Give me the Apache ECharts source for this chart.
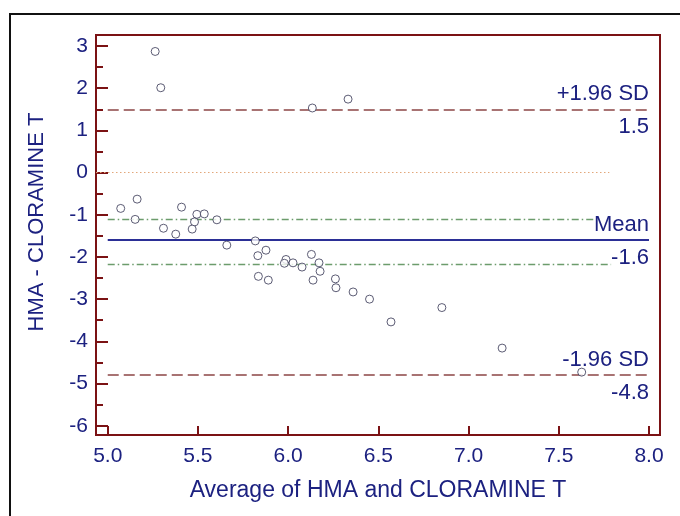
<!DOCTYPE html>
<html>
<head>
<meta charset="utf-8">
<script src="https://cdn.jsdelivr.net/npm/echarts@6/dist/echarts.min.js"></script>
<style>
  html, body { margin: 0; padding: 0; background: #fff; }
  #chart { width: 680px; height: 516px; }
</style>
</head>
<body>
<div id="chart"></div>
<script>
// Bland-Altman agreement plot: HMA vs CLORAMINE T
const avgValues = [5.263, 5.294, 6.134, 6.332, 5.072, 5.163, 5.152, 5.409, 5.494, 5.535,
                   5.481, 5.605, 5.309, 5.468, 5.377, 5.660, 5.818, 5.832, 5.877, 5.835,
                   5.890, 5.988, 5.979, 6.027, 6.077, 6.129, 6.171, 6.177, 6.138, 6.262,
                   6.265, 6.360, 6.451, 6.570, 6.852, 7.186, 7.627];
const diffValues = [2.87, 2.01, 1.53, 1.74, -0.85, -0.63, -1.11, -0.82, -0.99, -0.98,
                    -1.17, -1.12, -1.32, -1.34, -1.46, -1.72, -1.62, -1.97, -1.84, -2.46,
                    -2.55, -2.06, -2.15, -2.14, -2.24, -1.94, -2.14, -2.34, -2.55, -2.52,
                    -2.73, -2.83, -3.00, -3.54, -3.20, -4.16, -4.73];

const meanDiff = -1.6;
const upperLoA = 1.5;
const lowerLoA = -4.8;
const meanCiUpper = -1.11;
const meanCiLower = -2.17;

const xTicks = [5.0, 5.5, 6.0, 6.5, 7.0, 7.5, 8.0];
const yTicks = [-6, -5, -4, -3, -2, -1, 0, 1, 2, 3];
const yMinorTicks = [-5.5, -4.5, -3.5, -2.5, -1.5, -0.5, 0.5, 1.5, 2.5];

const xRange = [4.935, 8.061];
const yRange = [-6.22, 3.26];
const lineStart = 5.0;
const lineEnd = 8.0;
const zeroLineEnd = 7.78;

const axisColor = '#7b1214';
const textColor = '#1c2180';
const font = '"Liberation Sans", Arial, sans-serif';

const points = avgValues.map((x, i) => [x, diffValues[i]]);

function hLine(y, x0, x1, lineStyle, label) {
  return [{ coord: [x0, y], lineStyle: lineStyle, label: label || { show: false } }, { coord: [x1, y] }];
}

function lineLabel(text, pos, extra) {
  return Object.assign({
    show: true, position: pos, distance: [0, pos === 'insideEndTop' ? 4 : 7], formatter: text,
    color: textColor, fontSize: 22, fontFamily: font
  }, extra || {});
}

const hidden = { color: 'transparent', width: 0 };
const loaStyle = { color: '#8c4545', width: 1.5, type: [11, 5] };
const ciStyle = { color: '#6c9c6c', width: 1.3, type: [7, 3, 1.5, 3] };

const chart = echarts.init(document.getElementById('chart'), null, { renderer: 'canvas' });
chart.setOption({
  backgroundColor: '#fff',
  animation: false,
  graphic: [{
    type: 'rect',
    shape: { x: 10, y: 14, width: 900, height: 900 },
    style: { fill: 'none', stroke: '#111', lineWidth: 2 },
    silent: true, z: 0
  }],
  grid: {
    left: 96, right: 20, top: 35, bottom: 81,
    show: true, borderColor: axisColor, borderWidth: 2, backgroundColor: 'transparent'
  },
  xAxis: {
    type: 'value', min: xRange[0], max: xRange[1],
    name: 'Average of HMA and CLORAMINE T',
    nameLocation: 'middle', nameGap: 44,
    nameTextStyle: { color: textColor, fontSize: 23, fontFamily: font },
    axisLine: { show: true, onZero: false, lineStyle: { color: axisColor, width: 2 } },
    axisTick: { show: true, inside: true, length: 9, lineStyle: { color: axisColor, width: 2 }, customValues: xTicks },
    axisLabel: { color: textColor, fontSize: 21, fontFamily: font, margin: 11, customValues: xTicks,
                 formatter: v => v.toFixed(1) },
    splitLine: { show: false }
  },
  yAxis: [{
    type: 'value', min: yRange[0], max: yRange[1],
    name: 'HMA - CLORAMINE T',
    nameLocation: 'middle', nameGap: 48,
    nameTextStyle: { color: textColor, fontSize: 22, fontFamily: font, padding: [0, 0, 0, 26] },
    axisLine: { show: true, onZero: false, lineStyle: { color: axisColor, width: 2 } },
    axisTick: { show: true, inside: true, length: 12, lineStyle: { color: axisColor, width: 2 }, customValues: yTicks },
    axisLabel: { color: textColor, fontSize: 21, fontFamily: font, margin: 8, customValues: yTicks,
                 formatter: v => String(Math.round(v)) },
    splitLine: { show: false }
  }, {
    type: 'value', min: yRange[0], max: yRange[1], position: 'left',
    axisLine: { show: false, onZero: false },
    axisTick: { show: true, inside: true, length: 7, lineStyle: { color: axisColor, width: 2 }, customValues: yMinorTicks },
    axisLabel: { show: false },
    splitLine: { show: false }
  }],
  series: [
    {
      // zero reference and confidence band of the mean difference
      type: 'line', data: [], z: 2, silent: true,
      markLine: {
        symbol: 'none', silent: true, animation: false,
        data: [
          hLine(0, xRange[0], zeroLineEnd, { color: '#e2a77a', width: 1, type: [1.5, 2.5] }),
          hLine(meanCiUpper, lineStart, lineEnd, ciStyle),
          hLine(meanCiLower, lineStart, lineEnd, ciStyle)
        ]
      }
    },
    {
      // mean difference and limits of agreement
      type: 'line', data: [], z: 3, silent: true,
      markLine: {
        symbol: 'none', silent: true, animation: false,
        data: [
          hLine(upperLoA, lineStart, lineEnd, loaStyle, lineLabel('+1.96 SD', 'insideEndTop')),
          hLine(upperLoA, lineStart, lineEnd, hidden, lineLabel(upperLoA.toFixed(1), 'insideEndBottom')),
          hLine(meanDiff, lineStart, lineEnd, { color: '#2b2f96', width: 2, type: 'solid' },
                lineLabel('Mean', 'insideEndTop', { backgroundColor: '#fff' })),
          hLine(meanDiff, lineStart, lineEnd, hidden,
                lineLabel(meanDiff.toFixed(1), 'insideEndBottom', { backgroundColor: '#fff' })),
          hLine(lowerLoA, lineStart, lineEnd, loaStyle, lineLabel('-1.96 SD', 'insideEndTop')),
          hLine(lowerLoA, lineStart, lineEnd, hidden, lineLabel(lowerLoA.toFixed(1), 'insideEndBottom'))
        ]
      }
    },
    {
      type: 'scatter', z: 5, data: points,
      symbol: 'circle', symbolSize: 8,
      itemStyle: { color: '#fff', borderColor: '#343452', borderWidth: 1 }
    }
  ]
});
</script>
</body>
</html>
